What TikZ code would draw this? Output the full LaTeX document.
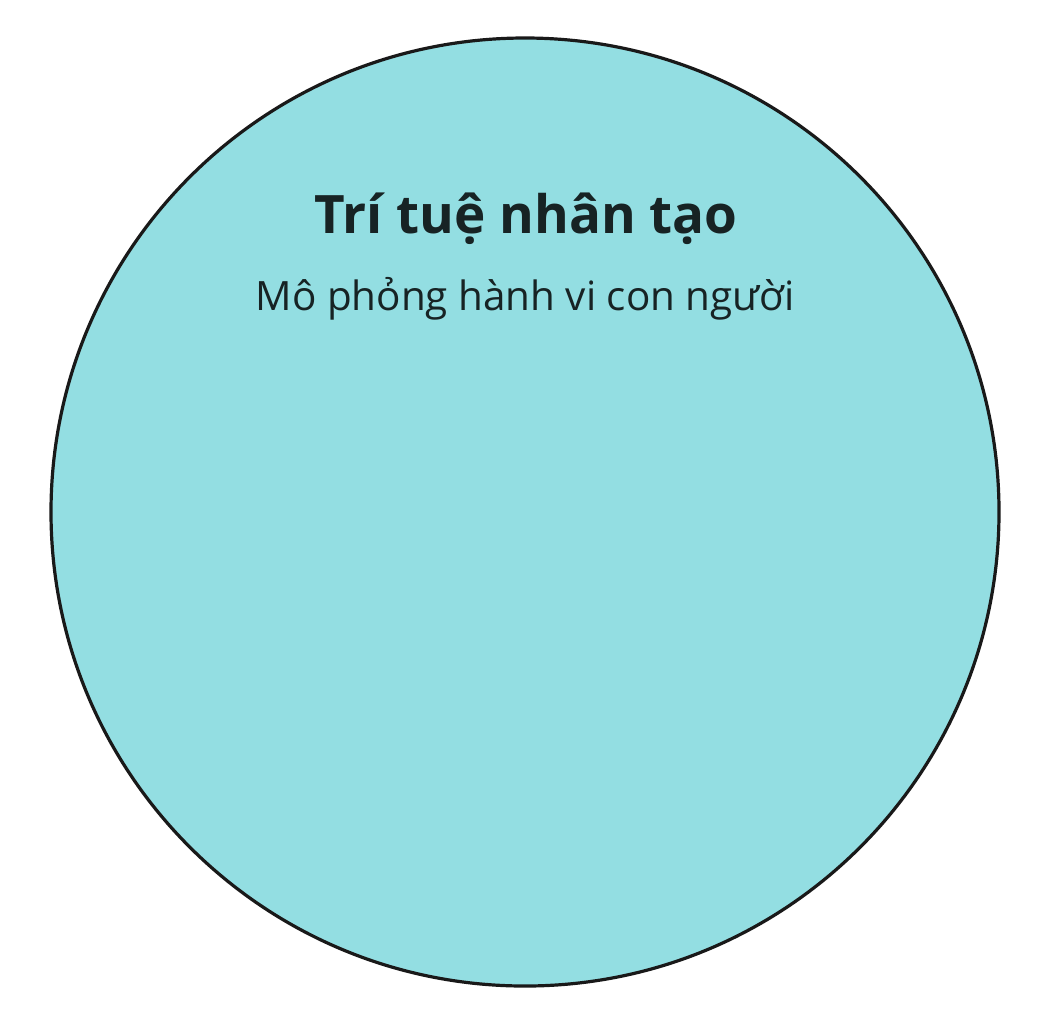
\documentclass[tikz,border=0pt]{standalone}
\usepackage{fontspec}
\setmainfont{Open Sans}
\usetikzlibrary{positioning}
\definecolor{aicyan}{HTML}{93DEE2}
\definecolor{aitext}{HTML}{172324}
\tikzstyle{bigcircle} = [circle, draw=black!90, line width=1.6pt, fill=aicyan, minimum size=474pt, inner sep=0pt]
\tikzstyle{title}     = [anchor=base, text=aitext, font=\fontsize{26.5}{30}\selectfont\bfseries]
\tikzstyle{subtitle}  = [anchor=base, text=aitext, font=\fontsize{20.2}{24}\selectfont]

\begin{document}
\begin{tikzpicture}[x=0.5pt, y=-0.5pt]
        \useasboundingbox (0,0) rectangle (1052,1024);
        \node [bigcircle] (ai) at (525,512) {};
        \node [title] (aititle) at (526,233) {Trí tuệ nhân tạo};
        \node [subtitle] (aisub) at (525,310) {Mô phỏng hành vi con người};
      \end{tikzpicture}
\end{document}
